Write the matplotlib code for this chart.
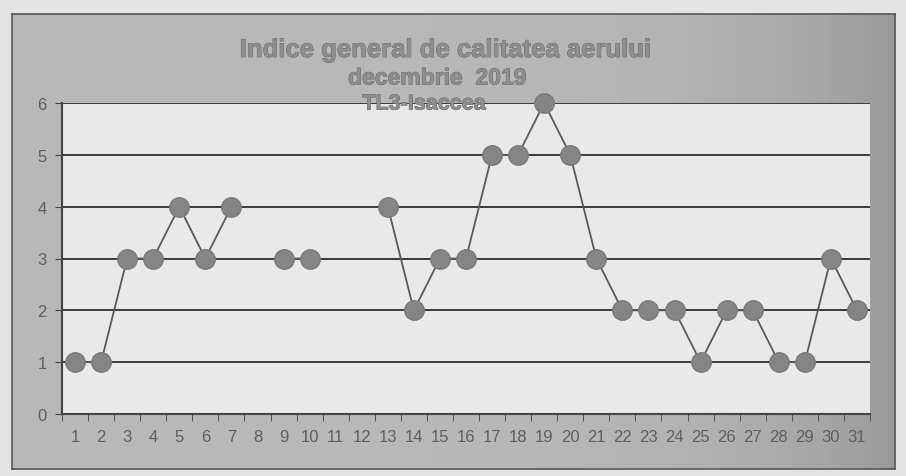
import numpy as np
import matplotlib
matplotlib.use("Agg")
import matplotlib.pyplot as plt
import matplotlib.patheffects as pe

days = list(range(1, 32))
# nan = missing day
iga = [1, 1, 3, 3, 4, 3, 4, np.nan, 3, 3, np.nan, np.nan, 4, 2, 3, 3,
       5, 5, 6, 5, 3, 2, 2, 2, 1, 2, 2, 1, 1, 3, 2]
yticks = [0, 1, 2, 3, 4, 5, 6]
title_lines = ["Indice general de calitatea aerului", "decembrie  2019", "TL3-Isaccea"]

plt.rcParams['font.family'] = ['Liberation Sans', 'DejaVu Sans']

W, H = 906, 477
fig = plt.figure(figsize=(W / 100, H / 100), dpi=100)
fig.patch.set_facecolor('#e4e4e4')

# chart area with a gradient (scan gets darker to the right)
bg = fig.add_axes([12 / W, 1 - 470 / H, (895 - 12) / W, (470 - 15) / H])
grad = np.linspace(0, 1, 256)
shade = 0.72 - 0.12 * grad ** 6
bg.imshow(np.tile(shade, (2, 1)), cmap='gray', vmin=0, vmax=1, aspect='auto',
          extent=[0, 1, 0, 1])
bg.set_xlim(0, 1)
bg.set_ylim(0, 1)
for s in bg.spines.values():
    s.set_color('#555555')
    s.set_linewidth(1.2)
bg.set_xticks([])
bg.set_yticks([])

ax = fig.add_axes([62 / W, 1 - 415 / H, (870 - 62) / W, (415 - 104) / H])
ax.set_facecolor('#e9e9e9')
ax.set_xlim(0.5, 31.5)
ax.set_ylim(0, 6)

ax.set_yticks(yticks)
for y in yticks[1:]:
    ax.axhline(y, color='#3a3a3a', lw=1.4, zorder=1)

ax.plot(days, iga, color='#5a5a5a', lw=1.3, marker='o', markersize=14,
        markerfacecolor='#858585', markeredgecolor='#7a7a7a', zorder=3,
        clip_on=False)

ax.set_xticks(days)
ax.set_xticks(np.arange(0.5, 32, 1), minor=True)
ax.tick_params(axis='x', which='major', length=0, pad=11, labelsize=12,
               labelcolor='#5e5e5e')
ax.tick_params(axis='x', which='minor', length=5, color='#444444', direction='out')
ax.tick_params(axis='y', length=5, color='#444444', labelsize=12,
               labelcolor='#5e5e5e', pad=6)

for side in ['top', 'right']:
    ax.spines[side].set_visible(False)
ax.spines['left'].set_color('#444444')
ax.spines['bottom'].set_color('#444444')
ax.spines['left'].set_linewidth(1.5)
ax.spines['bottom'].set_linewidth(1.5)

# title lines: x centre, y, size
pos = [(446, 51, 18.5), (437, 79, 16.5), (424, 105, 15.5)]
for txt, (xp, yp, fs) in zip(title_lines, pos):
    fig.text(xp / W, 1 - yp / H, txt, ha='center', va='center',
             fontsize=fs, fontweight='bold', color='#8e8e8e', zorder=5,
             path_effects=[pe.withStroke(linewidth=0.6, foreground='#606060')])

fig.savefig('out.png', dpi=100, facecolor=fig.get_facecolor())
